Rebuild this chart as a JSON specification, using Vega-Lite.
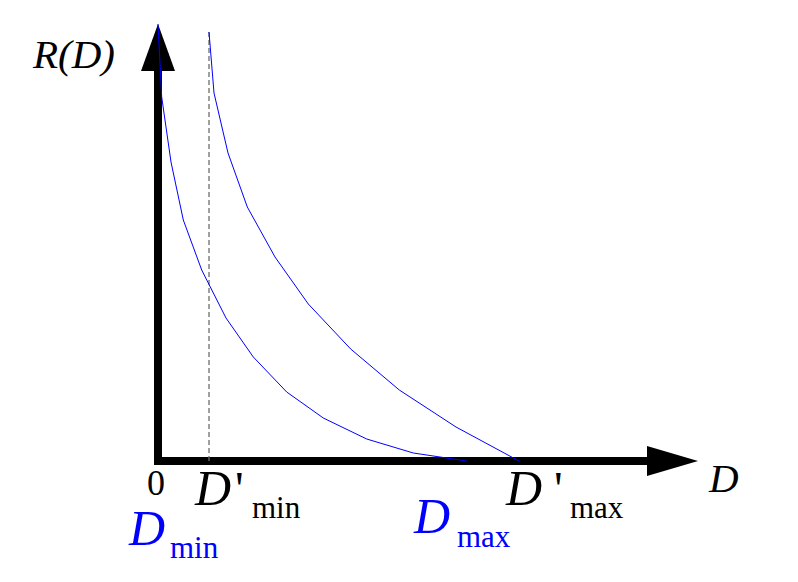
{
  "$schema": "https://vega.github.io/schema/vega-lite/v6.json",
  "width": 798,
  "height": 582,
  "padding": 0,
  "autosize": {"type": "fit", "contains": "padding"},
  "config": {"view": {"stroke": null}, "axis": {"disable": true}},
  "datasets": {
    "axes": [
      {"D": 0, "R": 391, "o": 1},
      {"D": 0, "R": 0, "o": 2},
      {"D": 489, "R": 0, "o": 3}
    ],
    "vhead": [
      {"R": 390, "left": -17, "right": 17},
      {"R": 437, "left": 0, "right": 0}
    ],
    "hhead": [
      {"D": 489, "top": 15, "bottom": -15},
      {"D": 540, "top": 0, "bottom": 0}
    ],
    "dashed": [
      {"D": 51, "R": 0, "R2": 429}
    ],
    "curves": [
      {"curve": "R(D)", "D": 0, "R": 437},
      {"curve": "R(D)", "D": 3.7, "R": 364},
      {"curve": "R(D)", "D": 13, "R": 299},
      {"curve": "R(D)", "D": 25.3, "R": 241},
      {"curve": "R(D)", "D": 43.7, "R": 191},
      {"curve": "R(D)", "D": 68, "R": 143},
      {"curve": "R(D)", "D": 95.3, "R": 104},
      {"curve": "R(D)", "D": 128.7, "R": 69},
      {"curve": "R(D)", "D": 165.3, "R": 43},
      {"curve": "R(D)", "D": 208.7, "R": 22},
      {"curve": "R(D)", "D": 255.3, "R": 8},
      {"curve": "R(D)", "D": 308.7, "R": 0},
      {"curve": "R'(D)", "D": 51, "R": 429},
      {"curve": "R'(D)", "D": 56, "R": 368},
      {"curve": "R'(D)", "D": 70, "R": 308},
      {"curve": "R'(D)", "D": 89.3, "R": 254},
      {"curve": "R'(D)", "D": 117, "R": 204},
      {"curve": "R'(D)", "D": 150.3, "R": 157},
      {"curve": "R'(D)", "D": 192.7, "R": 112},
      {"curve": "R'(D)", "D": 241.3, "R": 71},
      {"curve": "R'(D)", "D": 298, "R": 34},
      {"curve": "R'(D)", "D": 361, "R": 0}
    ],
    "labels": [
      {"text": "R(D)", "role": "axis", "set": "axis", "D": -125, "R": 393},
      {"text": "D", "role": "axis", "set": "axis", "D": 551, "R": -31},
      {"text": "0", "role": "origin", "set": "axis", "D": -2, "R": -34},
      {"text": "D", "role": "symbol", "set": "primed", "D": 37, "R": -44},
      {"text": "'", "role": "prime", "set": "primed", "D": 77, "R": -44},
      {"text": "min", "role": "subscript", "set": "primed", "D": 94, "R": -57},
      {"text": "D", "role": "symbol", "set": "primed", "D": 348, "R": -44},
      {"text": "'", "role": "prime", "set": "primed", "D": 396, "R": -44},
      {"text": "max", "role": "subscript", "set": "primed", "D": 412, "R": -57},
      {"text": "D", "role": "symbol", "set": "original", "D": -29, "R": -84},
      {"text": "min", "role": "subscript", "set": "original", "D": 12, "R": -97},
      {"text": "D", "role": "symbol", "set": "original", "D": 256, "R": -72},
      {"text": "max", "role": "subscript", "set": "original", "D": 299, "R": -86}
    ]
  },
  "encoding": {
    "x": {"type": "quantitative", "scale": {"domain": [-158, 640], "nice": false, "zero": false}, "axis": null},
    "y": {"type": "quantitative", "scale": {"domain": [-121, 461], "nice": false, "zero": false}, "axis": null}
  },
  "layer": [
    {
      "data": {"name": "axes"},
      "mark": {"type": "line", "stroke": "#000000", "strokeWidth": 8, "strokeJoin": "miter"},
      "encoding": {
        "x": {"field": "D", "type": "quantitative"},
        "y": {"field": "R", "type": "quantitative"},
        "order": {"field": "o", "type": "quantitative"}
      }
    },
    {
      "data": {"name": "vhead"},
      "mark": {"type": "area", "orient": "horizontal", "fill": "#000000"},
      "encoding": {
        "y": {"field": "R", "type": "quantitative"},
        "x": {"field": "left", "type": "quantitative"},
        "x2": {"field": "right"}
      }
    },
    {
      "data": {"name": "hhead"},
      "mark": {"type": "area", "orient": "vertical", "fill": "#000000"},
      "encoding": {
        "x": {"field": "D", "type": "quantitative"},
        "y": {"field": "top", "type": "quantitative"},
        "y2": {"field": "bottom"}
      }
    },
    {
      "data": {"name": "dashed"},
      "mark": {"type": "rule", "stroke": "#6e6e6e", "strokeWidth": 1.3, "strokeDash": [5, 3]},
      "encoding": {
        "x": {"field": "D", "type": "quantitative"},
        "y": {"field": "R", "type": "quantitative"},
        "y2": {"field": "R2"}
      }
    },
    {
      "data": {"name": "curves"},
      "mark": {"type": "line", "stroke": "#0000ff", "strokeWidth": 1},
      "encoding": {
        "x": {"field": "D", "type": "quantitative"},
        "y": {"field": "R", "type": "quantitative"},
        "detail": {"field": "curve", "type": "nominal"}
      }
    },
    {
      "data": {"name": "labels"},
      "transform": [{"filter": "datum.role === 'axis'"}],
      "mark": {"type": "text", "font": "Liberation Serif", "fontStyle": "italic", "fontSize": 41, "align": "left", "baseline": "alphabetic"},
      "encoding": {
        "x": {"field": "D", "type": "quantitative"},
        "y": {"field": "R", "type": "quantitative"},
        "text": {"field": "text"},
        "color": {"field": "set", "type": "nominal", "scale": {"domain": ["axis", "primed", "original"], "range": ["#000000", "#000000", "#0000ff"]}, "legend": null}
      }
    },
    {
      "data": {"name": "labels"},
      "transform": [{"filter": "datum.role === 'origin'"}],
      "mark": {"type": "text", "font": "Liberation Serif", "fontSize": 36, "align": "center", "baseline": "alphabetic"},
      "encoding": {
        "x": {"field": "D", "type": "quantitative"},
        "y": {"field": "R", "type": "quantitative"},
        "text": {"field": "text"},
        "color": {"field": "set", "type": "nominal", "legend": null}
      }
    },
    {
      "data": {"name": "labels"},
      "transform": [{"filter": "datum.role === 'symbol'"}],
      "mark": {"type": "text", "font": "Liberation Serif", "fontStyle": "italic", "fontSize": 50, "align": "left", "baseline": "alphabetic"},
      "encoding": {
        "x": {"field": "D", "type": "quantitative"},
        "y": {"field": "R", "type": "quantitative"},
        "text": {"field": "text"},
        "color": {"field": "set", "type": "nominal", "legend": null}
      }
    },
    {
      "data": {"name": "labels"},
      "transform": [{"filter": "datum.role === 'prime'"}],
      "mark": {"type": "text", "font": "Liberation Serif", "fontSize": 48, "align": "left", "baseline": "alphabetic"},
      "encoding": {
        "x": {"field": "D", "type": "quantitative"},
        "y": {"field": "R", "type": "quantitative"},
        "text": {"field": "text"},
        "color": {"field": "set", "type": "nominal", "legend": null}
      }
    },
    {
      "data": {"name": "labels"},
      "transform": [{"filter": "datum.role === 'subscript'"}],
      "mark": {"type": "text", "font": "Liberation Serif", "fontSize": 31, "align": "left", "baseline": "alphabetic"},
      "encoding": {
        "x": {"field": "D", "type": "quantitative"},
        "y": {"field": "R", "type": "quantitative"},
        "text": {"field": "text"},
        "color": {"field": "set", "type": "nominal", "legend": null}
      }
    }
  ]
}
